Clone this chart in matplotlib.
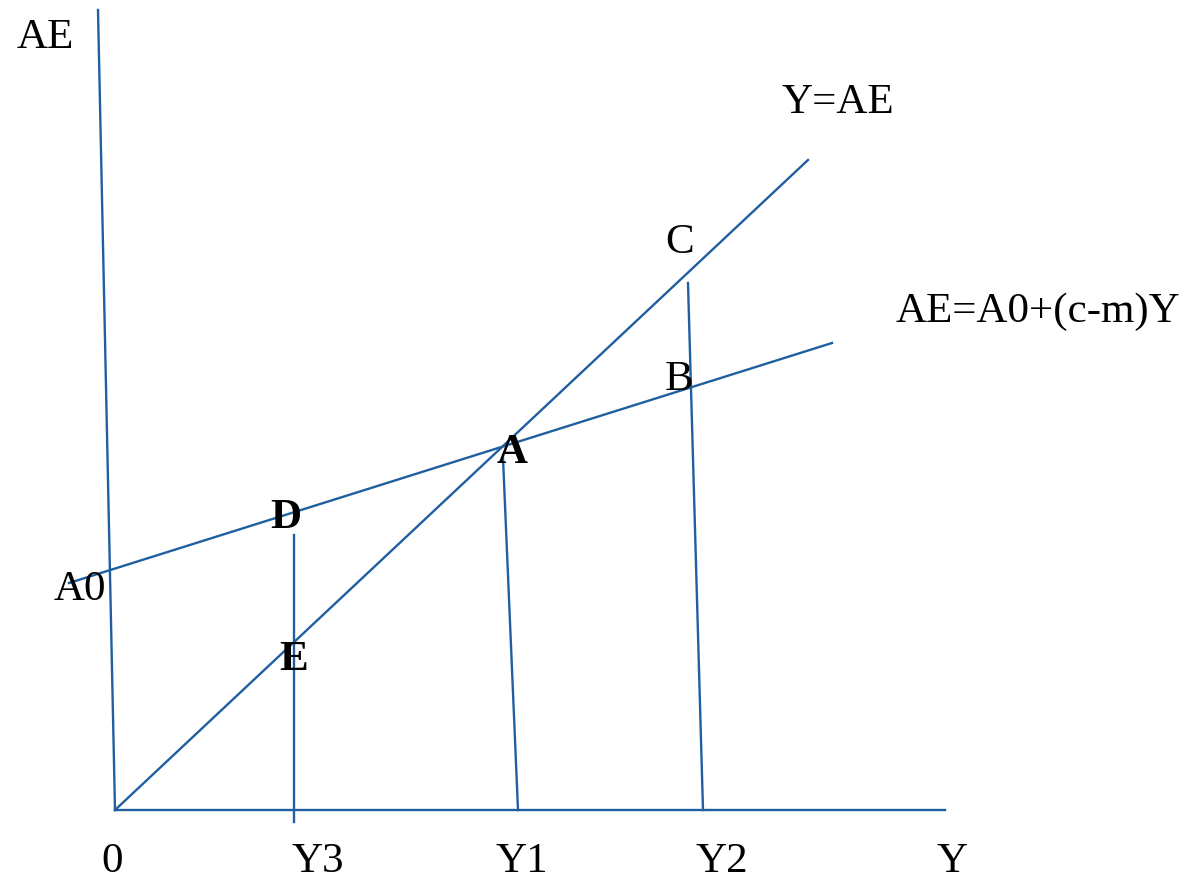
import matplotlib.pyplot as plt

# Diagram drawn in pixel-like coordinates (x right, y down)
line_color = "#1f5fa0"

# axes of the diagram
vaxis_x = [98, 115]
vaxis_y = [10, 810]
haxis_x = [115, 945]
haxis_y = [810, 810]

# Y = AE (45 degree line)
deg45_x = [115, 808]
deg45_y = [810, 160]

# AE = Ao + (c-m)Y
ae_x = [69, 832]
ae_y = [583, 343]

# drop lines to the Y axis
drop_names = ["D", "A", "C"]
drop_x = [[294, 294], [503, 518], [688, 703]]
drop_y = [[535, 822], [458, 810], [283, 810]]

# labels
labels = ["AE", "Y=AE", "C", "AE=A0+(c-m)Y", "B", "A", "D", "A0", "E",
          "0", "Y3", "Y1", "Y2", "Y"]
label_x = [45, 838, 680, 1038, 679, 512, 286, 80, 294,
           112, 318, 522, 722, 952]
label_y = [38, 103, 243, 312, 380, 453, 518, 590, 660,
           862, 862, 862, 862, 862]
label_bold = [False, False, False, False, False, True, True, False, True,
              False, False, False, False, False]

fig = plt.figure(figsize=(12.03, 8.9), dpi=100)
ax = fig.add_axes([0, 0, 1, 1])
ax.set_xlim(0, 1203)
ax.set_ylim(890, 0)
ax.axis("off")

ax.plot(vaxis_x, vaxis_y, color=line_color, lw=1.7)
ax.plot(haxis_x, haxis_y, color=line_color, lw=1.7)
ax.plot(deg45_x, deg45_y, color=line_color, lw=1.7)
ax.plot(ae_x, ae_y, color=line_color, lw=1.7)
for xs, ys in zip(drop_x, drop_y):
    ax.plot(xs, ys, color=line_color, lw=1.7)

for t, x, y, b in zip(labels, label_x, label_y, label_bold):
    ax.text(x, y, t, ha="center", va="center", fontsize=31,
            family=["Liberation Serif", "DejaVu Serif"],
            fontweight="bold" if b else "normal", color="black")

fig.savefig("out.png", dpi=100, facecolor="white")
